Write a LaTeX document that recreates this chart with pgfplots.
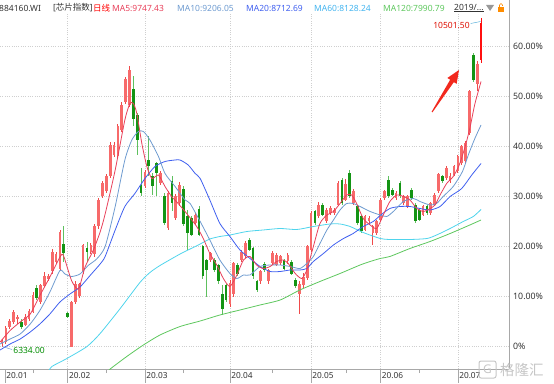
\documentclass[border=0pt]{standalone}
\usepackage{pgfplots}
\pgfplotsset{compat=1.18}
\usepackage{pgfplotstable}
\usepackage{fontspec}
\setmainfont{Noto Sans}
\newfontfamily\cjk{Noto Sans CJK SC}
\usetikzlibrary{arrows.meta}
\definecolor{upc}{HTML}{F76A6A}
\definecolor{upw}{HTML}{F04A4A}
\definecolor{lastc}{HTML}{FF1010}
\definecolor{dnc}{HTML}{149414}
\definecolor{dnw}{HTML}{5EC05E}
\definecolor{ma5}{HTML}{E8405A}
\definecolor{ma10}{HTML}{6E9BD0}
\definecolor{ma20}{HTML}{3F5FEF}
\definecolor{ma60}{HTML}{4FD4EC}
\definecolor{ma120}{HTML}{5DC75D}
\definecolor{txt}{HTML}{333333}
\definecolor{gridc}{HTML}{CFCFCF}
\definecolor{axc}{HTML}{A8A8A8}
\definecolor{arrc}{HTML}{F2291E}

\pgfplotstableread{
i o h l c
0 0.7 1.5 0.0 1.2
1 1.0 4.2 0.6 3.7
2 3.9 5.5 3.5 5.2
3 4.9 7.3 4.5 6.9
4 5.5 6.3 4.6 5.9
6 4.4 6.6 4.1 5.9
7 5.5 7.6 5.2 7.2
8 7.0 11.0 6.8 10.4
10 8.9 12.5 8.5 12.2
11 12.2 14.9 11.9 14.2
12 13.5 14.5 13.1 14.1
13 15.2 19.5 14.5 18.9
14 16.9 18.9 16.5 18.5
15 15.5 23.3 15.2 22.9
18 0.0 9.1 -0.1 8.9
19 8.9 13.2 8.5 12.5
20 10.2 12.8 9.8 12.5
21 14.9 20.5 14.5 20.2
23 18.9 20.6 18.5 20.2
24 18.5 24.5 17.9 24.0
25 24.0 29.6 23.5 29.3
26 30.0 33.0 29.6 32.6
27 31.0 34.5 30.6 34.0
28 34.0 40.8 33.6 40.3
29 38.3 40.8 37.9 40.3
30 38.0 44.4 37.6 44.0
31 43.3 48.8 42.9 48.3
32 49.0 54.0 48.6 53.6
33 48.3 56.1 47.9 55.3
37 32.1 35.2 31.7 34.8
41 32.6 35.0 32.3 34.6
43 23.6 31.0 23.3 30.6
45 25.6 30.5 25.2 30.0
46 28.6 32.8 28.0 32.3
50 24.6 26.6 24.3 26.3
54 17.3 19.0 17.0 18.6
59 8.5 13.3 8.0 12.6
60 10.5 17.0 10.0 16.6
62 17.3 19.3 17.0 19.0
63 18.0 21.0 17.6 20.6
67 13.0 15.3 12.6 15.0
69 13.0 15.6 12.6 15.3
70 16.6 19.0 16.3 18.6
71 16.3 18.6 16.0 18.3
72 16.6 18.3 16.3 18.0
74 17.0 18.8 16.6 18.3
77 10.6 13.0 6.6 12.6
78 12.3 14.6 11.6 14.0
79 13.6 20.3 13.3 20.0
80 19.3 27.0 19.0 26.6
82 26.0 28.8 25.6 28.3
84 25.0 27.6 24.6 27.3
85 26.6 28.0 26.3 27.6
86 26.6 27.6 26.3 27.3
87 28.3 33.0 28.0 32.6
89 29.3 33.5 29.0 32.5
91 28.6 31.5 28.3 31.0
94 23.3 26.3 23.0 26.0
95 25.0 26.0 24.6 25.6
96 22.6 24.3 20.3 24.0
97 22.6 25.3 22.3 25.0
98 25.3 29.6 25.0 29.3
99 29.6 31.3 29.3 31.0
102 29.6 31.0 29.3 30.6
104 28.6 30.3 28.3 30.0
105 28.0 30.3 27.6 30.0
109 26.3 28.3 26.0 28.0
111 26.6 28.9 26.3 28.6
112 28.3 30.6 28.0 30.3
113 31.0 34.6 30.6 34.4
115 33.6 36.0 33.3 35.6
116 33.0 34.6 32.6 34.0
117 34.3 36.3 34.0 36.0
118 35.0 38.3 34.6 38.0
119 36.6 40.3 36.3 40.0
120 37.0 41.0 36.6 40.6
121 42.6 51.3 42.3 51.0
123 52.6 57.0 51.0 56.6
}\up

\pgfplotstableread{
i o h l c
124 57.2 65.8 56.8 64.6
}\last

\pgfplotstableread{
i o h l c
5 4.9 5.5 3.5 3.9
9 11.7 12.2 9.3 9.7
16 20.4 24.0 16.9 18.7
17 6.7 6.9 5.7 5.9
22 19.7 20.9 16.9 18.9
34 51.5 54.0 44.0 45.5
35 46.3 46.6 38.3 41.2
36 32.3 35.6 30.0 30.6
38 37.3 42.0 34.0 36.0
39 34.0 34.6 30.3 32.0
40 36.7 36.9 30.0 34.6
42 30.0 30.6 24.3 24.6
44 33.0 34.0 27.0 28.6
47 31.5 32.0 24.0 24.5
48 26.0 27.3 19.3 22.6
49 25.6 26.0 22.0 22.3
51 27.5 28.0 22.0 22.3
52 20.0 20.3 13.6 14.0
53 17.3 17.6 10.0 15.3
55 17.3 17.6 14.8 15.3
56 16.3 16.6 12.6 13.0
57 10.6 12.3 6.3 7.6
58 12.2 12.5 9.0 9.3
61 16.3 16.6 14.0 14.5
64 21.3 21.6 19.0 19.3
65 19.6 19.9 13.6 14.0
66 13.0 13.3 11.0 11.3
68 16.6 17.0 15.0 15.3
73 17.3 17.6 15.3 15.6
75 17.0 17.3 14.3 14.6
76 13.3 13.6 11.6 12.0
81 27.0 27.3 24.3 24.6
83 28.3 28.6 26.0 26.3
88 33.3 33.6 28.3 28.6
90 34.6 35.2 29.6 30.0
92 28.0 28.3 24.3 24.6
93 26.0 26.3 22.6 23.0
100 33.3 34.0 29.6 30.0
101 31.3 31.6 30.0 30.3
103 32.6 33.0 29.6 30.0
106 31.3 31.6 29.3 29.6
107 28.3 28.6 24.6 25.0
108 27.3 27.6 25.0 25.3
110 28.0 28.3 26.3 26.6
114 34.0 34.3 32.6 33.0
122 58.4 58.7 53.0 53.3
}\down

\pgfplotstableread{
x y
-0.5 0.9
2.1 3.2
4.7 4.9
7.3 6.5
9.8 10.2
12.4 13.9
15.0 17.9
15.9 18.2
18.0 13.2
19.8 11.5
21.5 15.9
23.6 19.2
25.4 22.9
26.7 26.5
29.3 35.3
31.8 45.3
33.1 48.6
34.0 48.6
34.9 46.6
36.2 40.6
37.5 36.0
38.8 33.6
40.5 34.3
42.2 32.0
43.9 30.0
45.6 28.6
47.8 26.6
50.4 24.0
52.1 21.6
53.8 18.6
55.6 16.3
57.3 13.6
59.0 12.0
60.8 14.3
62.5 17.3
64.2 18.0
65.9 16.3
67.6 15.6
69.4 16.0
71.1 17.0
72.8 17.3
74.1 16.6
75.9 14.6
77.6 13.6
78.9 15.3
80.6 20.0
82.3 24.6
84.1 26.3
85.8 27.0
87.5 28.6
89.2 30.3
90.5 30.3
91.8 28.6
93.5 25.6
95.3 24.3
97.0 23.6
98.7 26.3
100.4 29.0
102.2 30.3
103.9 30.0
105.6 29.3
107.4 27.6
109.1 27.0
110.8 27.6
112.1 28.3
113.4 30.3
115.1 32.6
116.8 34.0
118.3 36.2
119.9 40.0
121.2 44.0
122.4 48.5
124.0 53.0
}\maA

\pgfplotstableread{
x y
-0.5 0.5
2.1 1.5
4.7 2.5
7.3 4.5
9.8 7.2
12.4 10.9
15.0 15.2
16.3 14.5
18.0 14.0
20.2 14.5
22.3 16.2
24.5 17.5
26.7 20.0
29.3 28.0
31.8 37.3
33.6 41.3
35.3 43.0
36.6 43.0
38.3 41.3
40.5 38.0
42.2 34.6
44.8 32.0
47.4 29.3
48.7 28.6
51.3 25.0
53.8 21.3
56.4 17.3
59.0 14.6
60.8 13.6
62.5 14.3
64.2 14.3
66.8 16.0
69.4 16.3
72.0 16.3
74.6 16.0
77.1 15.6
78.9 16.6
80.6 18.0
82.3 20.6
84.1 23.3
85.8 25.3
87.5 27.3
89.2 28.6
90.9 28.6
92.7 28.0
95.3 27.0
97.9 26.3
99.6 26.0
101.3 27.0
103.9 29.0
106.5 29.6
108.2 29.0
110.8 28.3
112.5 28.6
114.2 30.0
116.8 32.0
119.2 35.0
120.7 38.3
122.4 41.6
124.0 44.3
}\maB

\pgfplotstableread{
x y
-0.5 -0.7
2.1 0.5
4.7 1.5
7.3 2.9
9.8 4.5
12.4 6.5
15.0 8.9
17.6 10.5
20.2 11.9
22.8 14.2
25.4 16.5
26.7 18.0
29.3 23.3
31.8 28.0
34.4 30.6
37.0 33.6
39.6 36.0
42.2 37.0
44.8 37.3
46.1 37.3
48.2 36.3
50.0 34.6
51.3 33.6
53.8 29.3
56.4 24.6
59.0 22.0
61.6 19.3
64.2 17.6
66.8 16.0
69.4 15.0
72.0 15.0
74.6 15.3
77.1 15.3
78.9 15.6
80.6 17.0
83.2 18.6
85.8 20.3
88.4 21.6
90.9 22.6
93.5 24.0
96.1 25.0
97.9 26.2
100.4 27.6
103.0 28.0
105.6 28.0
108.2 27.6
110.8 27.3
113.4 28.0
116.0 30.0
119.0 31.6
121.6 34.3
124.0 36.6
}\maC

\pgfplotstableread{
x y
12.0 -5.0
12.9 -4.0
16.8 -2.4
22.0 0.0
25.4 2.6
30.5 7.5
35.7 12.8
38.3 14.8
40.9 16.2
46.1 18.5
48.7 19.5
51.3 20.5
53.8 21.5
56.4 22.0
59.0 22.3
63.4 23.0
67.6 23.3
72.0 23.6
76.3 23.4
80.6 24.0
84.9 24.5
87.5 24.5
90.1 24.0
93.5 22.8
97.9 21.6
100.4 21.4
105.6 21.4
110.0 21.6
112.5 22.3
116.0 23.6
119.4 25.0
122.0 26.0
124.0 27.4
}\maD

\pgfplotstableread{
x y
27.5 -5.0
28.0 -4.5
32.3 -2.0
36.6 0.3
40.9 2.3
46.1 4.0
51.3 5.1
56.4 6.3
61.6 7.3
66.8 8.3
72.0 9.3
77.1 11.3
82.3 13.0
87.5 14.6
92.7 16.3
95.3 17.0
97.9 17.6
100.4 18.0
105.6 19.6
110.8 21.0
116.0 22.6
121.1 24.3
124.0 25.3
}\maE

\begin{document}
\begin{tikzpicture}
\useasboundingbox (0,-14pt) rectangle (554pt,369pt);
\begin{axis}[
  at={(0,0)}, anchor=south west, scale only axis,
  width=509pt, height=355pt,
  xmin=-0.518, xmax=131.24,
  ymin=-4.5, ymax=66.5,
  clip mode=individual,
  axis x line*=bottom, axis y line*=right,
  axis line style={draw=axc, line width=0.6pt, -},
  xtick={17,37,59,80,98,118},
  xticklabels={20.02,20.03,20.04,20.05,20.06,20.07},
  extra x ticks={0.8}, extra x tick labels={20.01},
  extra x tick style={grid=none},
  minor xtick={8,27,47,70,89,108},
  ytick={0,10,20,30,40,50,60},
  yticklabels={0\%,10.00\%,20.00\%,30.00\%,40.00\%,50.00\%,60.00\%},
  major tick length=0pt, minor tick length=4pt, tick align=outside,
  x tick style={draw=axc, line width=0.5pt},
  y tick style={draw=none},
  xmajorgrids, ymajorgrids,
  grid style={draw=gridc, line width=0.5pt, dash pattern=on 1pt off 1.3pt},
  xticklabel style={font=\fontsize{8.3}{9}\selectfont, text=txt, anchor=north west, inner sep=0pt, xshift=1.2pt, yshift=-3.2pt},
  yticklabel style={font=\fontsize{8.8}{10}\selectfont, text=txt, anchor=west, inner sep=0pt, xshift=4pt},
]
% wicks
\addplot[draw=none, mark=none, forget plot, error bars/.cd, y dir=both, y explicit, error mark=none,
  error bar style={draw=upw, line width=0.8pt}]
  table[x=i, y expr={(\thisrow{h}+\thisrow{l})/2}, y error expr={(\thisrow{h}-\thisrow{l})/2}] {\up};
\addplot[draw=none, mark=none, forget plot, error bars/.cd, y dir=both, y explicit, error mark=none,
  error bar style={draw=dnw, line width=0.8pt}]
  table[x=i, y expr={(\thisrow{h}+\thisrow{l})/2}, y error expr={(\thisrow{h}-\thisrow{l})/2}] {\down};
\addplot[draw=none, mark=none, forget plot, error bars/.cd, y dir=both, y explicit, error mark=none,
  error bar style={draw=lastc, line width=0.8pt}]
  table[x=i, y expr={(\thisrow{h}+\thisrow{l})/2}, y error expr={(\thisrow{h}-\thisrow{l})/2}] {\last};
% bodies
\addplot[draw=none, mark=none, forget plot, error bars/.cd, y dir=both, y explicit, error mark=none,
  error bar style={draw=upc, line width=2.7pt}]
  table[x=i, y expr={(\thisrow{o}+\thisrow{c})/2}, y error expr={abs(\thisrow{c}-\thisrow{o})/2}] {\up};
\addplot[draw=none, mark=none, forget plot, error bars/.cd, y dir=both, y explicit, error mark=none,
  error bar style={draw=dnc, line width=2.7pt}]
  table[x=i, y expr={(\thisrow{o}+\thisrow{c})/2}, y error expr={abs(\thisrow{c}-\thisrow{o})/2}] {\down};
\addplot[draw=none, mark=none, forget plot, error bars/.cd, y dir=both, y explicit, error mark=none,
  error bar style={draw=lastc, line width=2.7pt}]
  table[x=i, y expr={(\thisrow{o}+\thisrow{c})/2}, y error expr={abs(\thisrow{c}-\thisrow{o})/2}] {\last};
% moving averages
\addplot[ma120, line width=0.8pt, mark=none, smooth, tension=0.4] table[x=x,y=y] {\maE};
\addplot[ma60, line width=0.8pt, mark=none, smooth, tension=0.4] table[x=x,y=y] {\maD};
\addplot[ma20, line width=0.8pt, mark=none, smooth, tension=0.4] table[x=x,y=y] {\maC};
\addplot[ma10, line width=0.8pt, mark=none, smooth, tension=0.4] table[x=x,y=y] {\maB};
\addplot[ma5, line width=0.8pt, mark=none, smooth, tension=0.4] table[x=x,y=y] {\maA};
% annotations: tapered arrow
\fill[arrc] (axis cs:111.43,46.84) -- (axis cs:116.97,52.88) -- (axis cs:117.68,52.52)
  -- (axis cs:118.30,55.30) -- (axis cs:115.29,53.71) -- (axis cs:116.01,53.35)
  -- (axis cs:111.22,46.96) -- cycle;
\node[anchor=east, inner sep=0pt, text=red!85!black!90!orange, font=\fontsize{8.5}{9}\selectfont] at (axis cs:121.1,64.3) {10501.50};
\draw[ma10!80!cyan, line width=0.5pt] (axis cs:121.3,64.6) -- (axis cs:123.9,65.0);
\node[anchor=west, inner sep=0pt, text=green!55!black, font=\fontsize{8.5}{9}\selectfont] at (axis cs:2.9,-0.7) {6334.00};
\draw[ma10, line width=0.5pt] (axis cs:0.1,0.0) -- (axis cs:2.6,-0.6);
\end{axis}
% month ticks
\foreach \xx in {5,67.7,144.9,229.9,311.0,380.6,457.8}{
  \draw[axc, line width=0.5pt] (\xx pt,0) -- (\xx pt,-14pt);
}
% right axis extension above
\draw[axc, line width=0.6pt] (509pt,355pt) -- (509pt,369pt);
% header
\begin{scope}[every node/.style={anchor=west, inner sep=0pt, font=\fontsize{8.5}{9}\selectfont}]
\node[text=txt] at (-1pt,361pt) {884160.WI};
\node[text=txt] at (53pt,361pt) {[{\cjk 芯片指数}]};
\node[text=red] at (93pt,361pt) {\cjk 日线};
\node[text=ma5] at (112pt,361pt) {MA5:9747.43};
\node[text=ma10] at (177pt,361pt) {MA10:9206.05};
\node[text=ma20] at (246pt,361pt) {MA20:8712.69};
\node[text=ma60!85!blue] at (314pt,361pt) {MA60:8128.24};
\node[text=ma120] at (383pt,361pt) {MA120:7990.79};
\node[text=txt] at (454pt,361pt) {\underline{2019/...}};
\end{scope}
\fill[gray!80] (486pt,364pt) -- (494pt,364pt) -- (490pt,358pt) -- cycle;
\fill[orange!90!yellow] (498pt,357pt) rectangle (504pt,362pt);
\draw[orange!90!yellow, line width=0.6pt] (499.5pt,362pt) -- (499.5pt,364pt) arc (180:0:1.5pt) -- (502.5pt,363pt);
% watermark
\draw[gray!45, line width=1pt, rounded corners=2pt] (479pt,-9pt) rectangle (496pt,8pt);
\node[text=gray!45, font=\bfseries\fontsize{12}{12}\selectfont, inner sep=0pt] at (487.5pt,-0.5pt) {G};
\node[text=gray!45, anchor=west, inner sep=0pt, font=\cjk\fontsize{14.5}{15}\selectfont] at (500pt,-0.5pt) {格隆汇};
\end{tikzpicture}
\end{document}
